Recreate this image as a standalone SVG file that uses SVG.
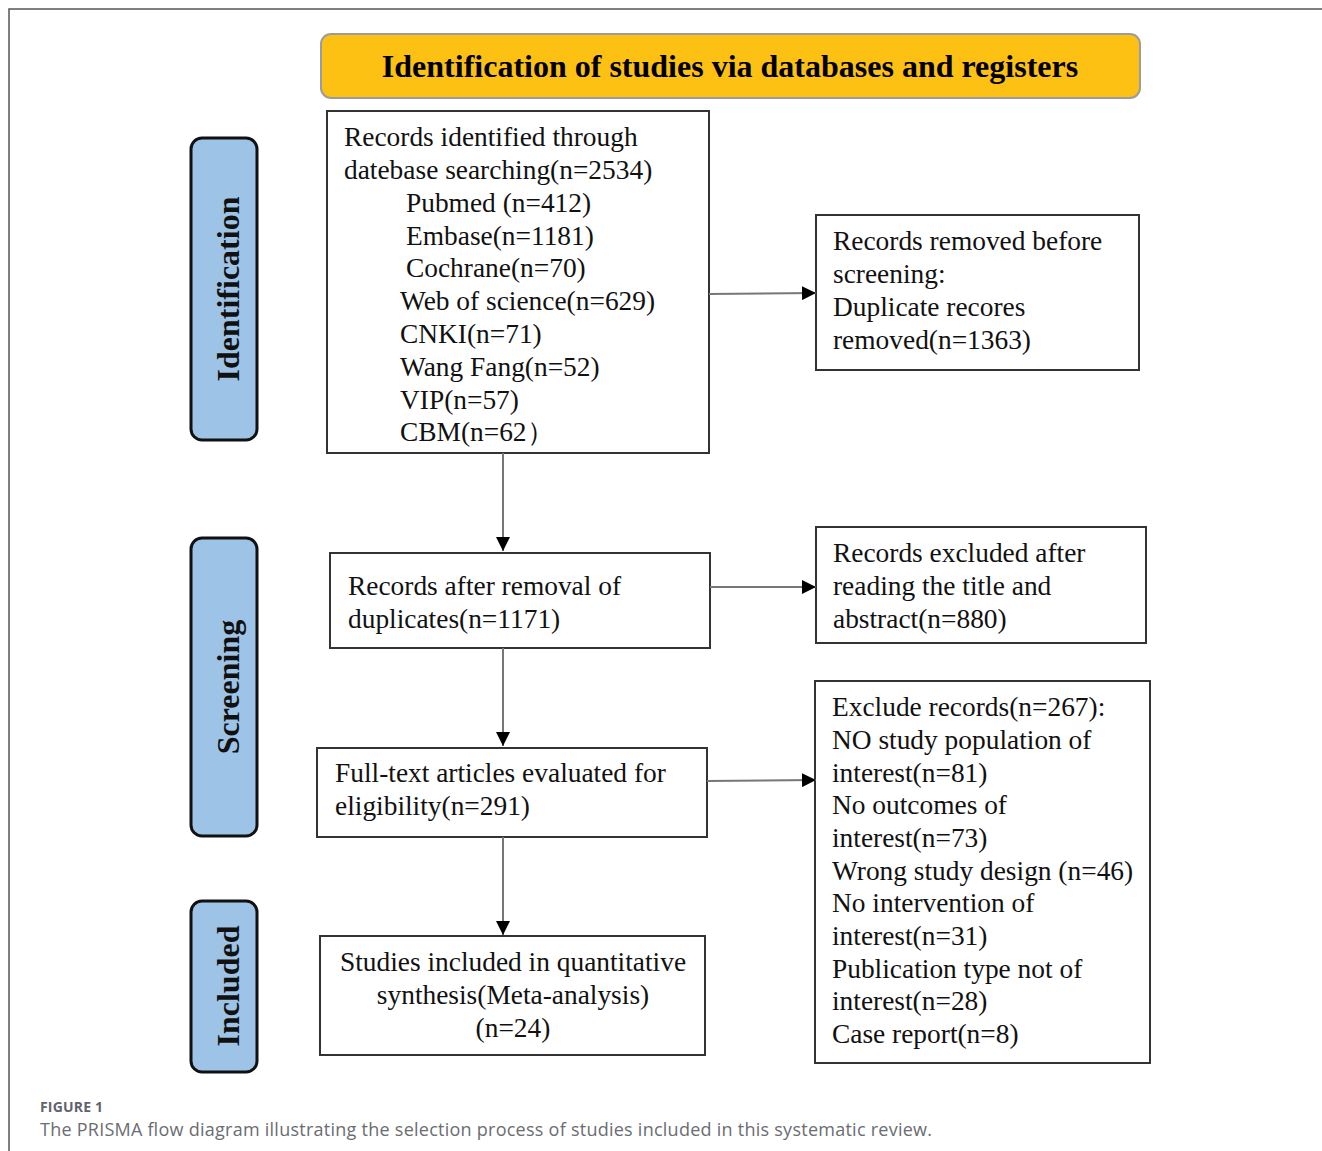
<svg xmlns="http://www.w3.org/2000/svg" width="1322" height="1151" viewBox="0 0 1322 1151">
<defs>
<style>
.frame{fill:none;stroke:#555;stroke-width:1.5}
.hdr{fill:#FDC113;stroke:#9c9c9c;stroke-width:2}
.hdrt{font-family:"Liberation Serif",serif;font-weight:bold;font-size:32px;fill:#000;text-anchor:middle}
.side{fill:#9DC3E6;stroke:#111;stroke-width:3}
.sidet{font-family:"Liberation Serif",serif;font-weight:bold;font-size:32px;fill:#111;text-anchor:middle}
.box{fill:#fff;stroke:#333;stroke-width:2}
.t{font-family:"Liberation Serif",serif;font-size:27.4px;fill:#111}
.c{text-anchor:middle}
.conn{stroke:#777;stroke-width:2;fill:none}
.cap1{font-family:"Open Sans","Liberation Sans",sans-serif;font-weight:bold;font-size:14px;fill:#5f636b}
.cap2{font-family:"Open Sans","Liberation Sans",sans-serif;font-size:18px;fill:#6a6d72}
</style>
<marker id="ah" markerUnits="userSpaceOnUse" markerWidth="14" markerHeight="14" viewBox="0 0 14 14" refX="14" refY="7" orient="auto">
<path d="M0,0 L14,7 L0,14 Z" fill="#000"/>
</marker>
</defs>
<rect width="1322" height="1151" fill="#fff"/>
<path class="frame" d="M9,1151 L9,9 L1322,9"/>

<g id="header">
<rect class="hdr" x="321" y="34" width="819" height="64" rx="10"/>
<text class="hdrt" x="730" y="77">Identification of studies via databases and registers</text>
</g>

<g id="stage-identification">
<rect class="side" x="191" y="138" width="66" height="302" rx="11"/>
<text class="sidet" transform="translate(239,289) rotate(-90)">Identification</text>
</g>
<g id="stage-screening">
<rect class="side" x="191" y="538" width="66" height="298" rx="11"/>
<text class="sidet" transform="translate(239,687) rotate(-90)">Screening</text>
</g>
<g id="stage-included">
<rect class="side" x="191" y="901" width="66" height="171" rx="11"/>
<text class="sidet" transform="translate(239,986) rotate(-90)">Included</text>
</g>

<g id="records-identified">
<rect class="box" x="327" y="111" width="382" height="342"/>
<text class="t" x="344" y="146">Records identified through</text>
<text class="t" x="344" y="179">datebase searching(n=2534)</text>
<text class="t" x="406" y="212">Pubmed (n=412)</text>
<text class="t" x="406" y="245">Embase(n=1181)</text>
<text class="t" x="406" y="277">Cochrane(n=70)</text>
<text class="t" x="400" y="310">Web of science(n=629)</text>
<text class="t" x="400" y="343">CNKI(n=71)</text>
<text class="t" x="400" y="376">Wang Fang(n=52)</text>
<text class="t" x="400" y="409">VIP(n=57)</text>
<text class="t" x="400" y="441">CBM(n=62）</text>
</g>

<g id="records-removed">
<rect class="box" x="816" y="215" width="323" height="155"/>
<text class="t" x="833" y="250">Records removed before</text>
<text class="t" x="833" y="283">screening:</text>
<text class="t" x="833" y="316">Duplicate recores</text>
<text class="t" x="833" y="349">removed(n=1363)</text>
</g>

<g id="records-after-removal">
<rect class="box" x="330" y="553" width="380" height="95"/>
<text class="t" x="348" y="595">Records after removal of</text>
<text class="t" x="348" y="628">duplicates(n=1171)</text>
</g>

<g id="records-excluded">
<rect class="box" x="816" y="527" width="330" height="116"/>
<text class="t" x="833" y="562">Records excluded after</text>
<text class="t" x="833" y="595">reading the title and</text>
<text class="t" x="833" y="628">abstract(n=880)</text>
</g>

<g id="full-text">
<rect class="box" x="317" y="748" width="390" height="89"/>
<text class="t" x="335" y="782">Full-text articles evaluated for</text>
<text class="t" x="335" y="815">eligibility(n=291)</text>
</g>

<g id="exclude-records">
<rect class="box" x="815" y="681" width="335" height="382"/>
<text class="t" x="832" y="716">Exclude records(n=267):</text>
<text class="t" x="832" y="749">NO study population of</text>
<text class="t" x="832" y="782">interest(n=81)</text>
<text class="t" x="832" y="814">No outcomes of</text>
<text class="t" x="832" y="847">interest(n=73)</text>
<text class="t" x="832" y="880">Wrong study design (n=46)</text>
<text class="t" x="832" y="912">No intervention of</text>
<text class="t" x="832" y="945">interest(n=31)</text>
<text class="t" x="832" y="978">Publication type not of</text>
<text class="t" x="832" y="1010">interest(n=28)</text>
<text class="t" x="832" y="1043">Case report(n=8)</text>
</g>

<g id="studies-included">
<rect class="box" x="320" y="936" width="385" height="119"/>
<text class="t c" x="513" y="971">Studies included in quantitative</text>
<text class="t c" x="513" y="1004">synthesis(Meta-analysis)</text>
<text class="t c" x="513" y="1037">(n=24)</text>
</g>

<g id="connectors">
<line class="conn" x1="709" y1="294" x2="816" y2="293" marker-end="url(#ah)"/>
<line class="conn" x1="710" y1="587" x2="816" y2="587" marker-end="url(#ah)"/>
<line class="conn" x1="707" y1="781" x2="816" y2="780" marker-end="url(#ah)"/>
<line class="conn" x1="503" y1="453" x2="503" y2="551" marker-end="url(#ah)"/>
<line class="conn" x1="503" y1="648" x2="503" y2="746" marker-end="url(#ah)"/>
<line class="conn" x1="503" y1="837" x2="503" y2="935" marker-end="url(#ah)"/>
</g>

<g id="caption">
<text class="cap1" x="40" y="1112" textLength="63" lengthAdjust="spacing">FIGURE 1</text>
<text class="cap2" x="40" y="1136" textLength="892" lengthAdjust="spacing">The PRISMA flow diagram illustrating the selection process of studies included in this systematic review.</text>
</g>
</svg>
